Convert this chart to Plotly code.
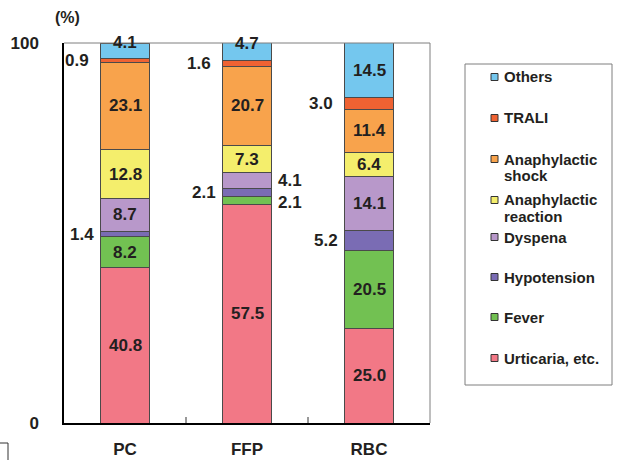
import plotly.graph_objects as go

# Blood components and reaction categories (stacked bottom -> top)
categories = ["PC", "FFP", "RBC"]
series_names = ["Urticaria, etc.", "Fever", "Hypotension", "Dyspena",
                "Anaphylactic<br>reaction", "Anaphylactic<br>shock", "TRALI", "Others"]
urticaria = [40.8, 57.5, 25.0]
fever = [8.2, 2.1, 20.5]
hypotension = [1.4, 2.1, 5.2]
dyspena = [8.7, 4.1, 14.1]
ana_reaction = [12.8, 7.3, 6.4]
ana_shock = [23.1, 20.7, 11.4]
trali = [0.9, 1.6, 3.0]
others = [4.1, 4.7, 14.5]
series_values = [urticaria, fever, hypotension, dyspena,
                 ana_reaction, ana_shock, trali, others]
y_ticks = [0, 100]

colors = ["#F27886", "#72C152", "#7A6CB4", "#B898CA",
          "#F4EE6C", "#F8A34C", "#EF6232", "#74C7EE"]

# label placement per segment: "in" (centred), "left", "right"
placement = [
    ["in", "in", "in"],
    ["in", "right", "in"],
    ["left", "left", "left"],
    ["in", "right", "in"],
    ["in", "in", "in"],
    ["in", "in", "in"],
    ["left", "left", "left"],
    ["in", "in", "in"],
]
top_shift = [8, 8, 0]  # lift of the topmost labels for PC / FFP

FONT = "Liberation Sans, Arial, sans-serif"
TXT = "#231F20"

# plot area in pixels
L, R, T, B = 64, 430, 43, 423
W, H = 621, 460


def px(x):
    return (x - L) / (R - L)


def py(y):
    return (B - y) / (B - T)


fig = go.Figure()
for name, vals, col in zip(series_names, series_values, colors):
    fig.add_trace(go.Bar(
        x=categories, y=vals, name=name.replace("<br>", " "),
        marker=dict(color=col, line=dict(color="#4A4A4A", width=1)),
        width=0.4, showlegend=False,
    ))

annotations = []
for si, vals in enumerate(series_values):
    for ci, cat in enumerate(categories):
        base = sum(series_values[k][ci] for k in range(si))
        mid = base + vals[ci] / 2
        mode = placement[si][ci]
        a = dict(x=cat, y=mid, xref="x", yref="y", text=f"{vals[ci]:.1f}",
                 showarrow=False, font=dict(family=FONT, size=17, color=TXT, weight="bold"))
        if mode == "left":
            a.update(xanchor="right", xshift=-34 if si == 6 else -29)
        elif mode == "right":
            a.update(xanchor="left", xshift=29)
            if si == 1:
                a.update(yshift=-2)
        if si == len(series_values) - 1:
            a.update(yshift=top_shift[ci])
        annotations.append(a)

# axis title
annotations.append(dict(x=px(67), y=py(18), xref="paper", yref="paper", text="(%)",
                        xanchor="center", yanchor="middle", showarrow=False,
                        font=dict(family=FONT, size=16, color=TXT, weight="bold")))

# legend drawn as a boxed list
legend_y = [77, 118, 159, 200, 237, 277, 317, 358]
shapes = [
    dict(type="rect", xref="paper", yref="paper", x0=px(465), x1=px(612), y0=py(64), y1=py(385),
         line=dict(color="#7F7F7F", width=1), fillcolor="white"),
    # frame top/right
    dict(type="line", xref="paper", yref="paper", x0=0, x1=1, y0=1, y1=1,
         line=dict(color="#7F7F7F", width=1)),
    dict(type="line", xref="paper", yref="paper", x0=1, x1=1, y0=0, y1=1,
         line=dict(color="#7F7F7F", width=1)),
    # small tick marks between categories
    dict(type="line", xref="x", yref="paper", x0=0.5, x1=0.5, y0=0, y1=py(B - 6),
         line=dict(color="#333333", width=1)),
    dict(type="line", xref="x", yref="paper", x0=1.5, x1=1.5, y0=0, y1=py(B - 6),
         line=dict(color="#333333", width=1)),
    # corner fragment at lower left
    dict(type="path", xref="paper", yref="paper",
         path=f"M {px(0)},{py(443)} L {px(8)},{py(443)} L {px(8)},{py(460)}",
         line=dict(color="#333333", width=1)),
]
order = list(range(len(series_names)))[::-1]
for pos, si in zip(legend_y, order):
    shapes.append(dict(type="rect", xref="paper", yref="paper",
                       x0=px(491), x1=px(498), y0=py(pos - 3.5), y1=py(pos + 3.5),
                       fillcolor=colors[si], line=dict(color="#333333", width=1)))
    for li, line in enumerate(series_names[si].split("<br>")):
        annotations.append(dict(x=px(502), y=py(pos + li * 16), xref="paper", yref="paper",
                                text=line, showarrow=False, xanchor="left", yanchor="middle",
                                font=dict(family=FONT, size=15, color=TXT, weight="bold")))

fig.update_layout(
    barmode="stack",
    width=W, height=H,
    margin=dict(l=L, r=W - R, t=T, b=H - B, autoexpand=False),
    plot_bgcolor="white", paper_bgcolor="white",
    annotations=annotations, shapes=shapes,
    xaxis=dict(range=[-0.5, 2.5], showline=True, linecolor="black", linewidth=2,
               ticks="", ticklabelstandoff=10, showgrid=False, zeroline=False, automargin=False,
               tickfont=dict(family=FONT, size=17, color=TXT, weight="bold")),
    yaxis=dict(range=[0, 100], tickvals=y_ticks, showline=True, linecolor="black", linewidth=1.5,
               ticks="", ticklabelstandoff=20, showgrid=False, zeroline=False, automargin=False,
               tickfont=dict(family=FONT, size=17, color=TXT, weight="bold")),
)

fig.write_html("out.html")
